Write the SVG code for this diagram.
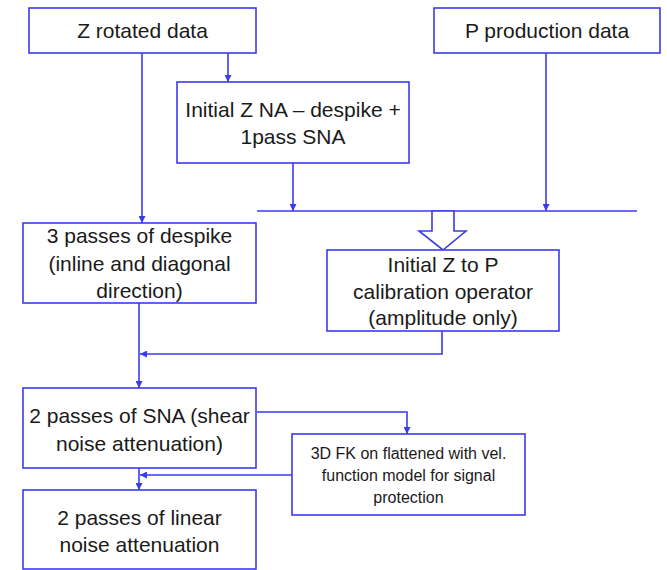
<svg xmlns="http://www.w3.org/2000/svg" width="667" height="570" viewBox="0 0 667 570">
<defs>
<style>
.box{fill:#ffffff;stroke:#3a3af0;stroke-width:1.6}
.ln{fill:none;stroke:#3a3af0;stroke-width:1.6}
.t{font-family:"Liberation Sans",Arial,sans-serif;font-size:21px;fill:#1a1a1a;text-anchor:middle}
.s{font-family:"Liberation Sans",Arial,sans-serif;font-size:16px;fill:#1a1a1a;text-anchor:middle}
</style>
<marker id="ah" viewBox="0 0 10 10" refX="10" refY="5" markerWidth="7" markerHeight="7" markerUnits="userSpaceOnUse" orient="auto">
<path d="M0,0 L10,5 L0,10 Z" fill="#3a3af0"/>
</marker>
</defs>
<rect width="667" height="570" fill="#ffffff"/>
<g id="connectors">
<path class="ln" d="M228,53 V82" marker-end="url(#ah)"/>
<path class="ln" d="M142,53 V223" marker-end="url(#ah)"/>
<path class="ln" d="M293,163 V211" marker-end="url(#ah)"/>
<path class="ln" d="M546,53 V211" marker-end="url(#ah)"/>
<path class="ln" d="M257,211 H637"/>
<polygon class="box" points="432,211 454,211 454,231 466,231 443,250 419,231 432,231"/>
<path class="ln" d="M139,303 V388" marker-end="url(#ah)"/>
<path class="ln" d="M442,331 V354 H140" marker-end="url(#ah)"/>
<path class="ln" d="M257,412 H407 V434" marker-end="url(#ah)"/>
<path class="ln" d="M292,475 H140" marker-end="url(#ah)"/>
<path class="ln" d="M139,468 V490" marker-end="url(#ah)"/>
</g>
<g id="z-rotated">
<rect class="box" x="29" y="8" width="227" height="45"/>
<text class="t" x="142.5" y="38">Z rotated data</text>
</g>
<g id="p-production">
<rect class="box" x="434" y="8" width="226" height="45"/>
<text class="t" x="547" y="38">P production data</text>
</g>
<g id="initial-z-na">
<rect class="box" x="177" y="82" width="232" height="81"/>
<text class="t" x="293" y="117">Initial Z NA – despike +</text>
<text class="t" x="293" y="144">1pass SNA</text>
</g>
<g id="despike">
<rect class="box" x="23" y="223" width="233" height="80"/>
<text class="t" x="139.5" y="243">3 passes of despike</text>
<text class="t" x="139.5" y="271">(inline and diagonal</text>
<text class="t" x="139.5" y="298">direction)</text>
</g>
<g id="calibration">
<rect class="box" x="327" y="250" width="232" height="81"/>
<text class="t" x="443" y="272">Initial Z to P</text>
<text class="t" x="443" y="299">calibration operator</text>
<text class="t" x="443" y="325">(amplitude only)</text>
</g>
<g id="sna">
<rect class="box" x="23" y="388" width="233" height="80"/>
<text class="t" x="139.5" y="423">2 passes of SNA (shear</text>
<text class="t" x="139.5" y="451">noise attenuation)</text>
</g>
<g id="fk">
<rect class="box" x="292" y="434" width="233" height="81"/>
<text class="s" x="408.5" y="459">3D FK on flattened with vel.</text>
<text class="s" x="408.5" y="481">function model for signal</text>
<text class="s" x="408.5" y="503">protection</text>
</g>
<g id="linear">
<rect class="box" x="23" y="490" width="233" height="79"/>
<text class="t" x="139.5" y="525">2 passes of linear</text>
<text class="t" x="139.5" y="552">noise attenuation</text>
</g>
</svg>
